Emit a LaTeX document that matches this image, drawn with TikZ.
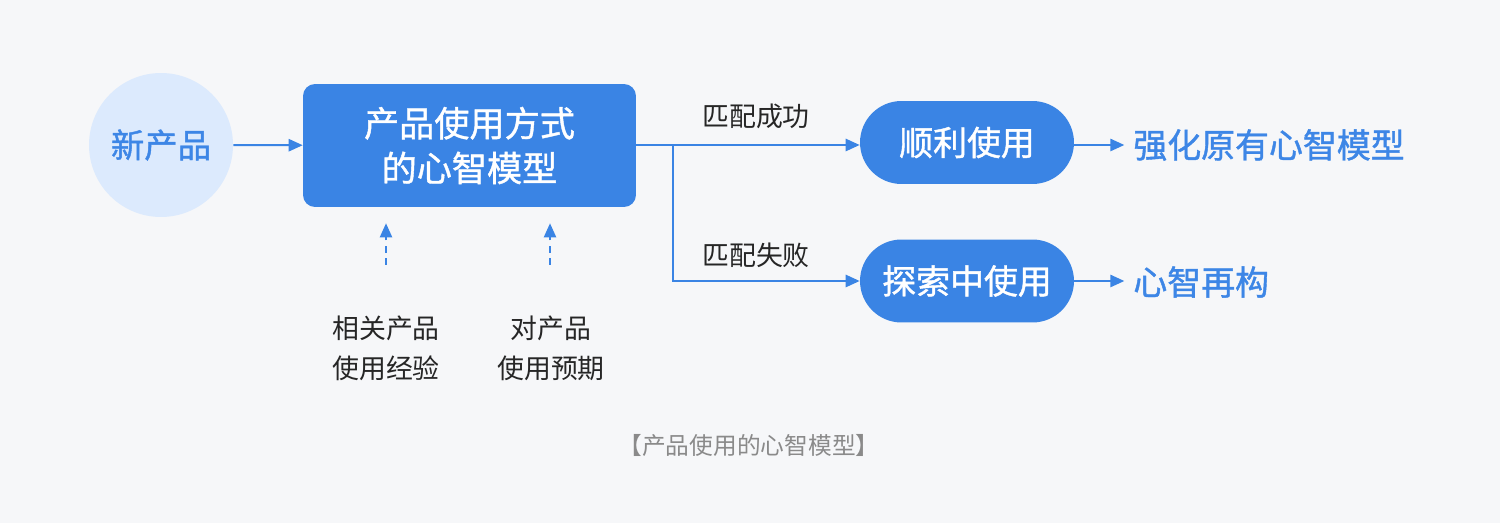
\documentclass[tikz,border=0pt]{standalone}
\usepackage{fontspec}
\setmainfont{Noto Sans CJK SC}
\newfontfamily\medfont[FakeBold=1.2]{Noto Sans CJK SC}
\usetikzlibrary{arrows.meta,positioning,calc}

\definecolor{bgcol}{HTML}{F6F7F9}
\definecolor{mainblue}{HTML}{3A84E4}
\definecolor{lightblue}{HTML}{DCEAFD}
\definecolor{textblue}{HTML}{3D86E6}
\definecolor{capgray}{HTML}{8A8A8A}

\begin{document}
\begin{tikzpicture}[%
x=0.02cm, y=-0.02cm,
>={Triangle[length=8pt,width=7pt]},
flow/.style={->, mainblue, line width=1.1pt},
hint/.style={->, mainblue, line width=0.9pt, dash pattern=on 4pt off 3pt},
blob/.style={circle, fill=lightblue, text=textblue, minimum size=2.88cm, inner sep=0pt,
  font=\medfont\fontsize{19}{22}\selectfont},
modelbox/.style={rectangle, rounded corners=0.24cm, fill=mainblue, text=white,
  minimum width=6.66cm, minimum height=2.46cm, align=center,
  font=\medfont\fontsize{20}{25.5}\selectfont},
pill/.style={rectangle, rounded corners=0.83cm, fill=mainblue, text=white,
  minimum width=4.28cm, minimum height=1.66cm, inner sep=0pt,
  font=\medfont\fontsize{19.3}{22}\selectfont},
result/.style={text=textblue, anchor=west, inner sep=0pt, font=\medfont\fontsize{19.3}{22}\selectfont},
tag/.style={text=black!85, font=\fontsize{15.3}{20}\selectfont},
source/.style={text=black!85, align=center, font=\fontsize{15.3}{22.7}\selectfont}
]
\useasboundingbox[fill=bgcol] (0,0) rectangle (1500,523);

\node[blob] (new) at (161,145) {新产品};
\node[modelbox] (model) at (469.5,145.5) {产品使用方式\\的心智模型};
\node[pill] (ok) at (967,142.5) {顺利使用};
\node[pill] (fail) at (967,281) {探索中使用};
\node[result] (keep) at (1133,145) {强化原有心智模型};
\node[result] (rebuild) at (1133,282) {心智再构};

% main flow
\draw[flow] (new) -- (model);
\coordinate (split) at (673,145);
\draw[flow] (model.east |- split) -- (ok.west |- split);
\draw[flow] (split) |- (fail.west);
\node[tag] (oktag) at (756,116) {匹配成功};
\node[tag] (failtag) at (756,255) {匹配失败};
\draw[flow] (ok.east |- split) -- ++(50,0) coordinate (okend);
\draw[flow] (fail.east) -- ++(50,0) coordinate (failend);

% inputs below the model
\node[source] (past) at (386,348) {相关产品\\使用经验};
\node[source] (expect) at (551,348) {对产品\\使用预期};
\coordinate (pastfoot) at (386,265);
\coordinate (expectfoot) at (550,265);
\draw[hint, shorten >=16*0.02cm] (pastfoot) -- (pastfoot |- model.south);
\draw[hint, shorten >=16*0.02cm] (expectfoot) -- (expectfoot |- model.south);

\node[text=capgray, font=\fontsize{13.5}{16}\selectfont] (caption) at (749,445) {【产品使用的心智模型】};
\end{tikzpicture}
\end{document}
